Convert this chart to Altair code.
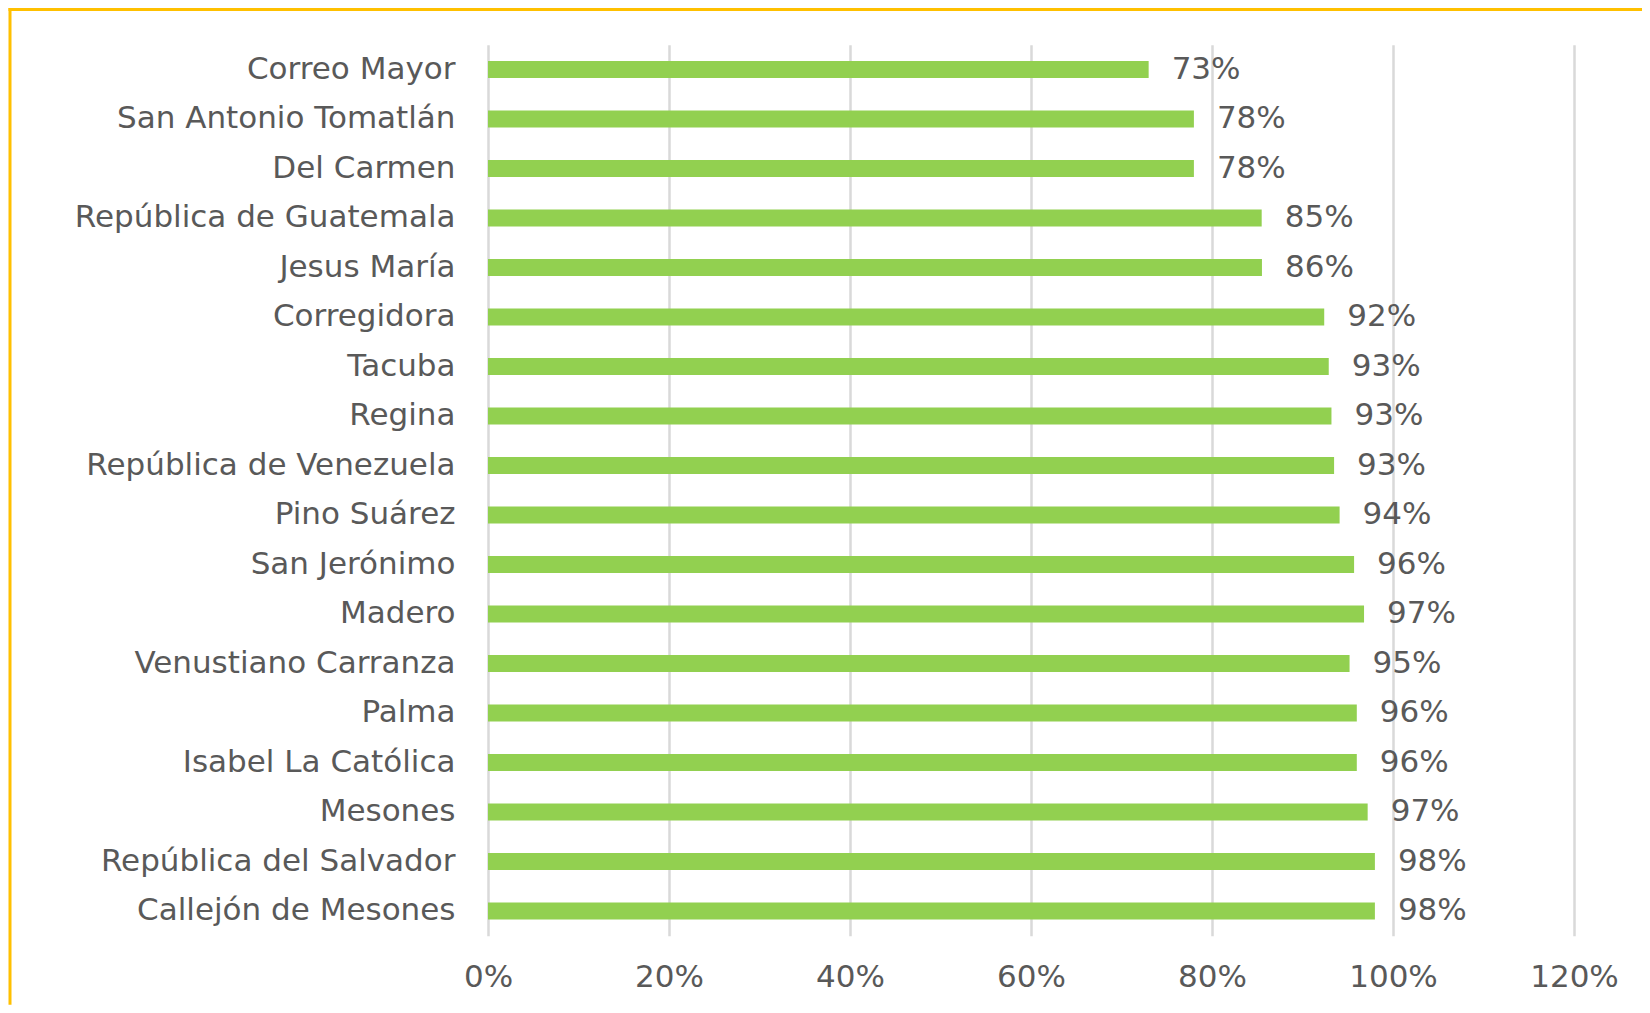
import altair as alt
import pandas as pd

categories = [
    "Correo Mayor", "San Antonio Tomatlán", "Del Carmen", "República de Guatemala",
    "Jesus María", "Corregidora", "Tacuba", "Regina", "República de Venezuela",
    "Pino Suárez", "San Jerónimo", "Madero", "Venustiano Carranza", "Palma",
    "Isabel La Católica", "Mesones", "República del Salvador", "Callejón de Mesones",
]
values = [0.730, 0.780, 0.780, 0.8549, 0.8552, 0.924, 0.929, 0.932, 0.9349,
          0.941, 0.957, 0.968, 0.952, 0.960, 0.960, 0.972, 0.980, 0.980]
x_ticks = [0, 0.2, 0.4, 0.6, 0.8, 1.0, 1.2]

W, H = 1086, 891
PL, PT, PR, PB = 480, 36.75, 68, 69
FONT = "DejaVu Sans"
TXT = "#595959"

df = pd.DataFrame({"calle": categories, "valor": values})
base = alt.Chart(df)

y_enc = alt.Y(
    "calle:N", sort=categories, title=None,
    scale=alt.Scale(paddingInner=0.66, paddingOuter=0.33),
    axis=alt.Axis(domain=False, ticks=False, labelPadding=33, labelFont=FONT,
                  labelFontSize=31, labelColor=TXT, labelLimit=470),
)
x_enc = alt.X(
    "valor:Q", title=None,
    scale=alt.Scale(domain=[0, 1.2], nice=False),
    axis=alt.Axis(values=x_ticks, format=".0%", grid=True, gridColor="#D9D9D9",
                  gridWidth=2.5, domain=False, ticks=False, tickSize=0,
                  labelFlush=False, labelOverlap=False,
                  labelPadding=27, labelFont=FONT, labelFontSize=31,
                  labelColor=TXT),
)

bars = base.mark_bar(color="#92D050").encode(x=x_enc, y=y_enc)

labels = base.mark_text(
    align="left", baseline="middle", dx=23, font=FONT, fontSize=31, color=TXT
).encode(
    x=alt.X("valor:Q"),
    y=alt.Y("calle:N", sort=categories),
    text=alt.Text("valor:Q", format=".0%"),
)

frame_df = alt.Chart(pd.DataFrame({"d": [0]}))
left_border = frame_df.mark_rule(color="#FFC000", strokeWidth=3).encode(
    x=alt.value(-478), y=alt.value(-PT), y2=alt.value(H + PB)
)
top_border = frame_df.mark_rule(color="#FFC000", strokeWidth=3).encode(
    x=alt.value(-479.5), x2=alt.value(W + PR), y=alt.value(-PT + 1.5)
)

chart = alt.layer(bars, labels, left_border, top_border).properties(
    width=W, height=H,
    autosize=alt.AutoSizeParams(type="none"),
    padding={"left": PL, "top": PT, "right": PR, "bottom": PB},
    background="white",
).configure_view(stroke=None)

chart.save("out.html", embed_options={"renderer": "svg", "actions": False})
